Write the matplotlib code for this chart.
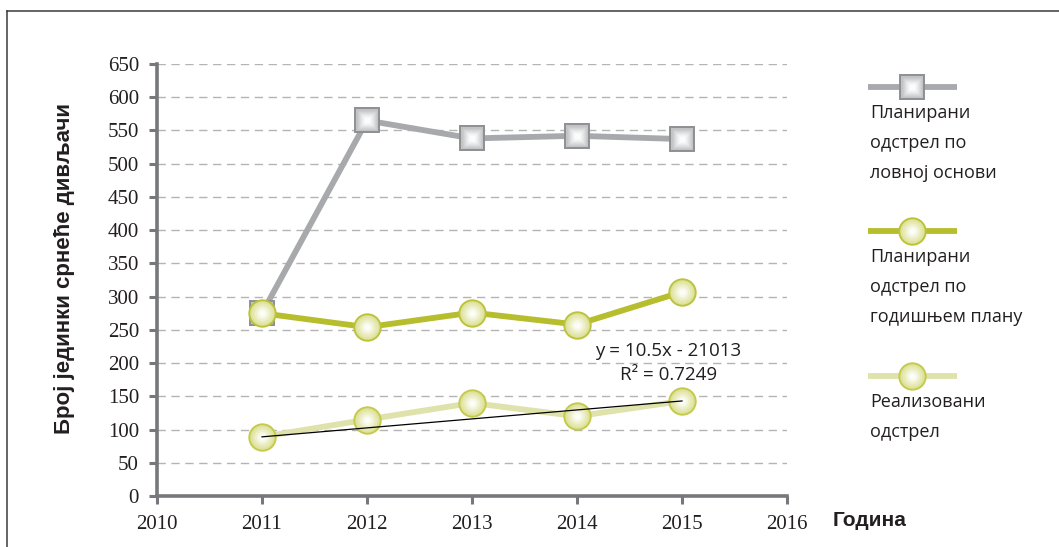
import numpy as np
import matplotlib
matplotlib.use("Agg")
import matplotlib.pyplot as plt
from matplotlib.lines import Line2D

# ---------------------------------------------------------------------------
# Data
# ---------------------------------------------------------------------------
years = [2011, 2012, 2013, 2014, 2015]
planned_base = [275, 565, 538, 542, 537]      # Планирани одстрел по ловној основи
planned_annual = [275, 254, 276, 258, 307]    # Планирани одстрел по годишњем плану
realized = [89, 115, 140, 120, 143]           # Реализовани одстрел
trend_years = [2011, 2015]
trend_values = [89, 143]

series_labels = [
    "Планирани\nодстрел по\nловној основи",
    "Планирани\nодстрел по\nгодишњем плану",
    "Реализовани\nодстрел",
]
x_ticks = [2010, 2011, 2012, 2013, 2014, 2015, 2016]
y_ticks = list(range(0, 651, 50))
equation_text = "y = 10.5x - 21013\nR² = 0.7249"

# ---------------------------------------------------------------------------
# Styles
# ---------------------------------------------------------------------------
W, H = 1059, 547
AXIS_COL = "#77787b"
GRID_COL = "#b4b4b4"
TEXT_COL = "#231f20"

styles = [
    dict(line="#a7a9ac", marker="s", ms=17, edge="#8e8f93",
         layers=["#c3c4c6", "#d3d4d6", "#e3e4e5", "#f2f2f3", "#fcfcfc"]),
    dict(line="#b7be2e", marker="o", ms=19, edge="#bcc33a",
         layers=["#dfe39c", "#e6e9b4", "#eef0cc", "#f6f7e4", "#fdfdf8"]),
    dict(line="#dfe2aa", marker="o", ms=19, edge="#c4ca4e",
         layers=["#dfe39c", "#e6e9b4", "#eef0cc", "#f6f7e4", "#fdfdf8"]),
]


def px(x, y):
    return x / W, 1 - y / H


def draw_markers(draw, xs, ys, st, z):
    # fake radial gradient: stacked markers getting lighter towards the centre
    draw(xs, ys, linestyle="none", marker=st["marker"], ms=st["ms"],
         mfc=st["layers"][0], mec=st["edge"], mew=1.4, zorder=z)
    n = len(st["layers"])
    for i, c in enumerate(st["layers"][1:], start=1):
        size = st["ms"] * (1 - i / (n + 0.6)) - 1
        draw(xs, ys, linestyle="none", marker=st["marker"], ms=size,
             mfc=c, mec="none", zorder=z + 0.01 * i)


fig = plt.figure(figsize=(W / 100, H / 100), dpi=100)
l, t = px(157, 64)
r, b = px(787, 496)
ax = fig.add_axes([l, b, r - l, t - b])

all_series = [planned_base, planned_annual, realized]
for k, (vals, st) in enumerate(zip(all_series, styles)):
    z = 3 + k * 2
    ax.plot(years, vals, color=st["line"], lw=4.2, zorder=z,
            solid_capstyle="butt")
    draw_markers(ax.plot, years, vals, st, z + 0.5)

# linear trend of realized harvest
ax.plot(trend_years, trend_values, color="black", lw=0.9, zorder=12)
ax.text(2014.87, 200, equation_text, ha="center", va="center", fontsize=13.5,
        family="Open Sans", color=TEXT_COL, linespacing=1.45,
        multialignment="center", zorder=13)

ax.set_xlim(2010, 2016)
ax.set_ylim(0, 650)
ax.set_xticks(x_ticks)
ax.set_yticks(y_ticks)
ax.tick_params(axis="both", direction="out", length=6, width=2.2,
               color=AXIS_COL, labelsize=15)
ax.tick_params(axis="y", pad=7)
ax.tick_params(axis="x", pad=8)
for lab in ax.get_xticklabels() + ax.get_yticklabels():
    lab.set_family("Liberation Serif")
    lab.set_color(TEXT_COL)

for s in ["top", "right"]:
    ax.spines[s].set_visible(False)
for s in ["left", "bottom"]:
    ax.spines[s].set_color(AXIS_COL)
    ax.spines[s].set_linewidth(2.6)

ax.yaxis.grid(True, color=GRID_COL, lw=1, linestyle=(0, (6, 4)))
ax.set_axisbelow(True)
ax.get_ygridlines()[0].set_visible(False)

ax.set_ylabel("Број јединки срнеће дивљачи", fontsize=16, fontweight="bold",
              family="Liberation Sans", color=TEXT_COL)
ax.yaxis.set_label_coords((75 - 157) / 630, (496 - 268) / 432)
fig.text(*px(833, 520), "Година", fontsize=15, fontweight="bold",
         family="Liberation Sans", color=TEXT_COL, ha="left", va="center")

# legend: sample line with marker, label text below it
legend_y = [87, 231, 376]
for st, label, ly in zip(styles, series_labels, legend_y):
    x0, y0 = px(868, ly)
    x1, _ = px(957, ly)
    xm, _ = px(912, ly)
    fig.add_artist(Line2D([x0, x1], [y0, y0], color=st["line"], lw=4.2,
                          transform=fig.transFigure, solid_capstyle="butt"))

    def fig_draw(xs, ys, **kw):
        kw.pop("zorder", None)
        fig.add_artist(Line2D(xs, ys, transform=fig.transFigure, **kw))

    draw_markers(fig_draw, [xm], [y0], st, 5)
    fig.text(*px(870, ly + 17), label, fontsize=13, family="Open Sans",
             color=TEXT_COL, ha="left", va="top", linespacing=1.85)

# outer frame (top and left edges)
fig.add_artist(Line2D([7 / W, 1], [1 - 11 / H, 1 - 11 / H], color="#3a3a3a",
                      lw=1.1, transform=fig.transFigure))
fig.add_artist(Line2D([7 / W, 7 / W], [0, 1 - 11 / H], color="#3a3a3a",
                      lw=1.1, transform=fig.transFigure))

fig.savefig("out.png", dpi=100)
